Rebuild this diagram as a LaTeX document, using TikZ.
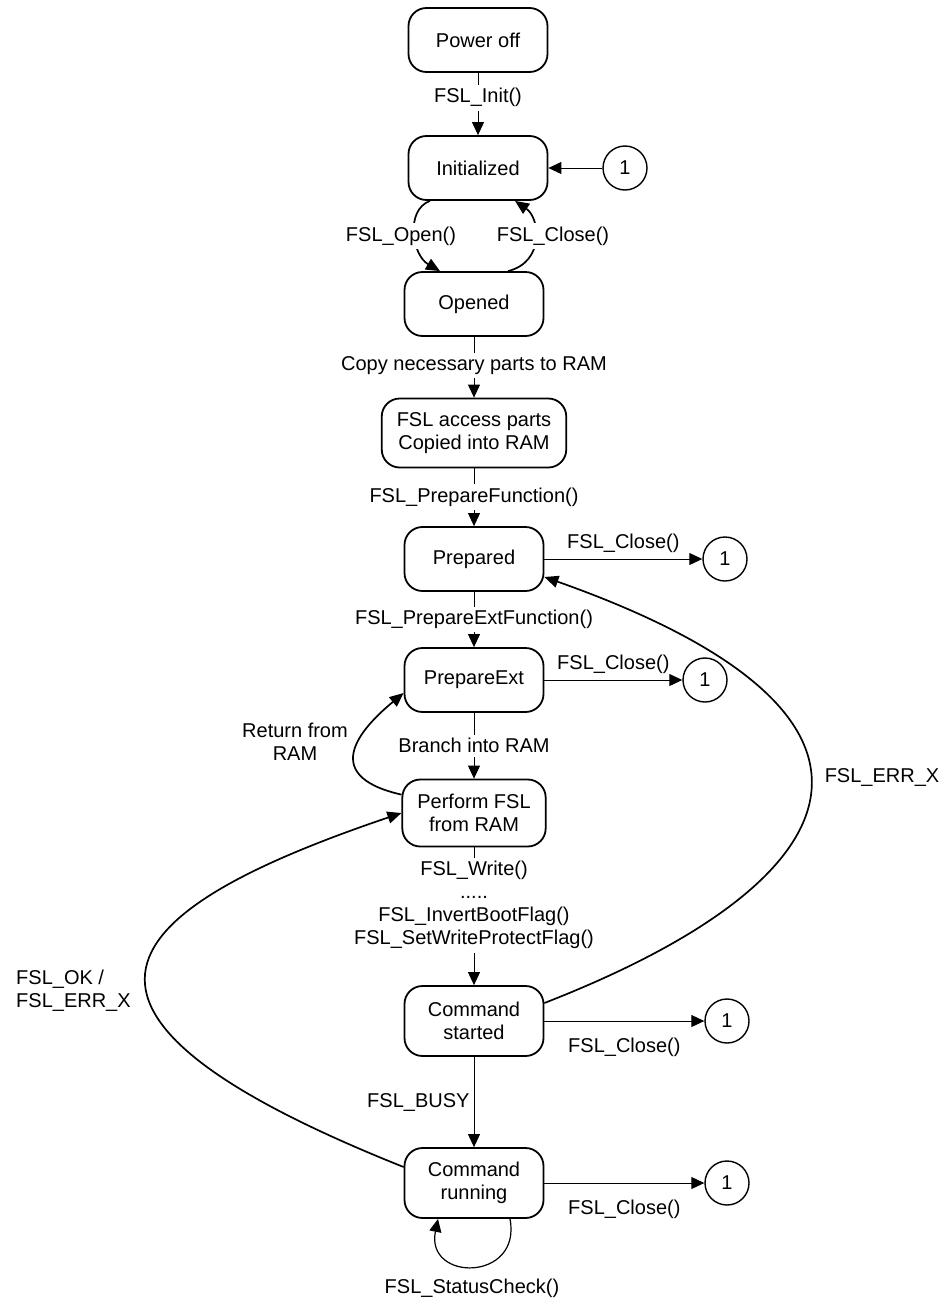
\documentclass[tikz,border=0pt]{standalone}
\usepackage{fontspec}
\setmainfont{Liberation Sans}
\usetikzlibrary{arrows.meta}

\begin{document}
\begin{tikzpicture}[
    x=1pt, y=-1pt,
    every node/.style={font=\fontsize{20}{23}\selectfont},
    state/.style={rectangle, rounded corners=18pt, draw=black, line width=1.8pt,
                  minimum width=139pt, minimum height=64pt, align=center,
                  fill=white, inner xsep=15pt, inner ysep=10pt},
    conn/.style={circle, draw=black, line width=1.4pt, minimum size=44pt, inner sep=0pt},
    lbl/.style={fill=white, inner xsep=2pt, inner ysep=3.5pt, align=center},
    arrow/.style={-{Triangle[length=13pt, width=12pt]}, line width=1pt},
    curve/.style={-{Triangle[length=14pt, width=12pt]}, line width=1.7pt}
]
\useasboundingbox (0,0) rectangle (949,1301);

% ================= STATES =================
\node[state] (pwr) at (478, 40) {Power off};
\node[state] (init) at (478, 168) {Initialized};
\node[state] (open) at (474, 304) {Opened};
\node[state, minimum height=69pt] (copy) at (474, 433) {FSL access parts\\Copied into RAM};
\node[state] (prep) at (474, 559) {Prepared};
\node[state] (pext) at (474, 680) {PrepareExt};
\node[state, minimum height=67pt] (perf) at (474, 813) {Perform FSL\\from RAM};
\node[state, minimum height=70pt] (cmdstart) at (474, 1021) {Command\\started};
\node[state, minimum height=70pt] (cmdrun) at (474, 1183) {Command\\running};

% Connector circles
\node[conn] (c0) at (625, 168) {1};
\node[conn] (c1) at (725, 559) {1};
\node[conn] (c2) at (705, 680) {1};
\node[conn] (c3) at (727, 1021) {1};
\node[conn] (c4) at (727, 1183) {1};

% ================= STRAIGHT TRANSITIONS =================
\draw[arrow] (pwr) -- node[lbl, pos=0.4] {FSL\_Init()} (init);
\draw[arrow] (c0) -- (init);
\draw[arrow] (open) -- node[lbl, pos=0.47] {Copy necessary parts to RAM} (copy);
\draw[arrow] (copy) -- node[lbl] {FSL\_PrepareFunction()} (prep);
\draw[arrow] (prep) -- node[above=4pt, inner sep=2pt] {FSL\_Close()} (c1);
\draw[arrow] (prep) -- node[lbl] {FSL\_PrepareExtFunction()} (pext);
\draw[arrow] (pext) -- node[above=4pt, inner sep=2pt] {FSL\_Close()} (c2);
\draw[arrow] (pext) -- node[lbl] {Branch into RAM} (perf);
\draw[arrow] (perf) -- node[lbl, pos=0.42] {FSL\_Write()\\.....\\FSL\_InvertBootFlag()\\FSL\_SetWriteProtectFlag()} (cmdstart);
\draw[arrow] (cmdstart) -- node[below=14pt, inner sep=2pt] {FSL\_Close()} (c3);
\draw[arrow] (cmdstart) -- node[left, inner sep=4pt] {FSL\_BUSY} (cmdrun);
\draw[arrow] (cmdrun) -- node[below=14pt, inner sep=2pt] {FSL\_Close()} (c4);

% ================= CURVED TRANSITIONS =================
% Open / close loop
\draw[curve] ([xshift=-48]init.south) .. controls (405,210) and (412,255) .. ([xshift=-34]open.north);
\draw[curve] ([xshift=34]open.north) .. controls (545,262) and (540,218) .. ([xshift=37]init.south);
\node[lbl] (lopen) at (401, 236) {FSL\_Open()};
\node[lbl] (lclose) at (553, 236) {FSL\_Close()};

% Return from RAM
\draw[curve] ([yshift=-16]perf.north west) .. controls (315,775) and (365,725) .. ([yshift=-13]pext.west);
\node[align=center] (lret) at (295, 742) {Return from\\RAM};

% Finished, back to Perform FSL
\draw[curve] ([yshift=16]cmdrun.west) .. controls (10,1010) and (115,910) .. (perf.west);
\node[anchor=west, align=left, inner sep=2pt] (lok) at (14, 991) {FSL\_OK /\\FSL\_ERR\_X};

% Error, back to Prepared
\draw[curve] ([yshift=18]cmdstart.east) .. controls (860,880) and (935,715) .. ([yshift=-18]prep.east);
\node (lerr) at (882, 777) {FSL\_ERR\_X};

% Status check self loop
\draw[arrow, line width=1.2pt] ([xshift=36]cmdrun.south) .. controls (522,1282) and (425,1282) .. ([xshift=-36]cmdrun.south);
\node (lstat) at (472, 1288) {FSL\_StatusCheck()};

\end{tikzpicture}
\end{document}
